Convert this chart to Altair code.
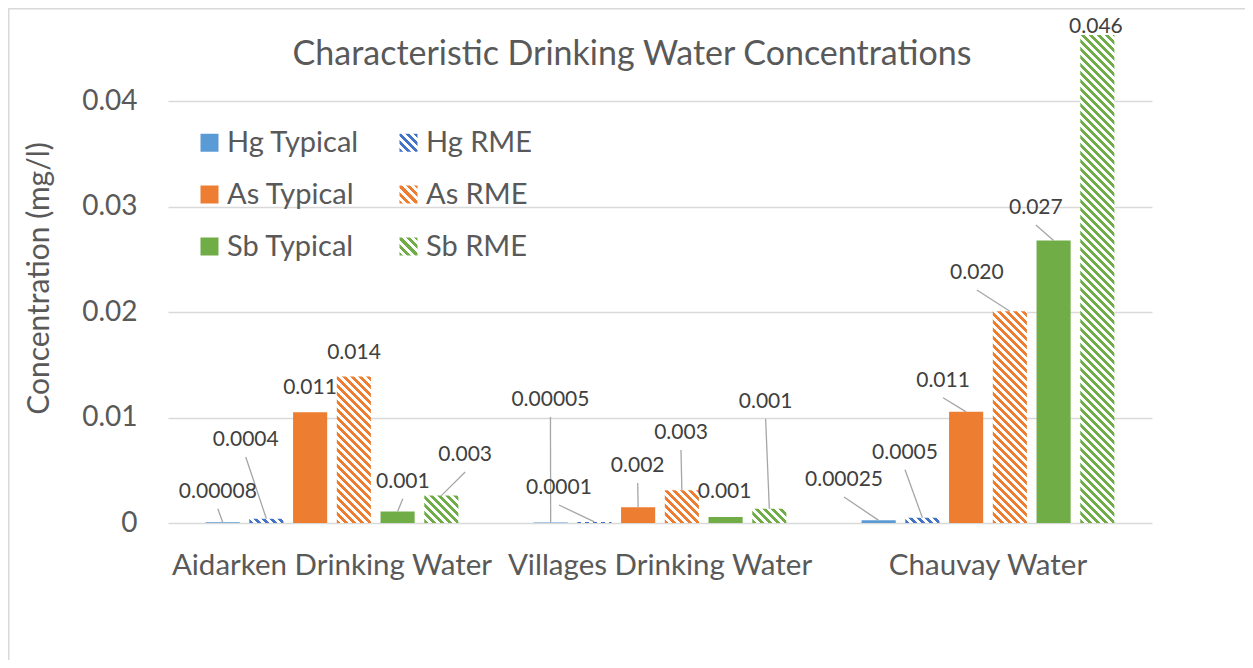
import altair as alt
import pandas as pd

# ---------------- data ----------------
categories = ["Aidarken Drinking Water", "Villages Drinking Water", "Chauvay Water"]
series = ["Hg Typical", "Hg RME", "As Typical", "As RME", "Sb Typical", "Sb RME"]

hg_typical = [0.00008, 0.00005, 0.00025]
hg_rme = [0.0004, 0.0001, 0.0005]
as_typical = [0.0105, 0.0015, 0.01055]
as_rme = [0.0139, 0.0031, 0.0201]
sb_typical = [0.0011, 0.00057, 0.0268]
sb_rme = [0.0026, 0.00136, 0.0463]

# data label texts (per category, per series)
label_text = [
    ["0.00008", "0.0004", "0.011", "0.014", "0.001", "0.003"],
    ["0.00005", "0.0001", "0.002", "0.003", "0.001", "0.001"],
    ["0.00025", "0.0005", "0.011", "0.020", "0.027", "0.046"],
]
# label centres: x in category units, y in mg/l
label_x = [
    [0.152, 0.237, 0.433, 0.567, 0.716, 0.906],
    [1.166, 1.192, 1.432, 1.564, 1.697, 1.822],
    [2.061, 2.247, 2.363, 2.466, 2.646, 2.829],
]
label_y = [
    [0.00297, 0.00788, 0.01281, 0.01616, 0.00392, 0.00645],
    [0.01167, 0.00332, 0.00541, 0.00854, 0.00297, 0.01151],
    [0.00408, 0.00667, 0.01350, 0.02372, 0.02989, 0.04710],
]
has_leader = [
    [True, True, False, False, True, True],
    [True, True, True, True, False, True],
    [True, True, True, True, True, False],
]

series_colors = ["#5B9BD5", "#4472C4", "#ED7D31", "#ED7D31", "#70AD47", "#70AD47"]
hatched = [False, True, False, True, False, True]

# ---------------- layout ----------------
W, H = 984, 490
YMAX = 0.0465
PAD = {"left": 160, "top": 25, "right": 93, "bottom": 137}
X_PI, X_PO = 0.2, 0.1
O_PI, O_PO = 0.22, 0.11
FONT = "Lato"
TXT = "#595959"
GRID = "#D9D9D9"
N_CAT, N_SER = len(categories), len(series)

band_step = W / (N_CAT - X_PI + 2 * X_PO)
group_w = band_step * (1 - X_PI)
sub_step = group_w / (N_SER - O_PI + 2 * O_PO)
bar_w = sub_step * (1 - O_PI)


def hatch(color, w, h, period=8.0, frac=0.5):
    """Diagonal stripes as a bbox-relative linear gradient (Vega expression)."""
    k = (w + h) * w * h / (w * w + h * h)
    x2 = k / h
    y2 = 1 - k / w
    n = (w + h) / period
    stops = []
    m = 0
    while m / n < 1:
        a = m / n
        b = min((m + frac) / n, 1.0)
        c = min((m + 1) / n, 1.0)
        stops += [(a, color), (b, color), (b, "#FFFFFF"), (c, "#FFFFFF")]
        m += 1
    parts = ",".join("{offset:%.5f,color:'%s'}" % (o, col) for o, col in stops)
    return {"expr": "{gradient:'linear',x1:0,y1:1,x2:%.5f,y2:%.5f,stops:[%s]}" % (x2, y2, parts)}


values_by_series = [hg_typical, hg_rme, as_typical, as_rme, sb_typical, sb_rme]
rows = []
fill_domain, fill_range = [], []
for i, cat in enumerate(categories):
    for j, ser in enumerate(series):
        v = values_by_series[j][i]
        key = f"{cat}|{ser}"
        rows.append({
            "category": cat, "series": ser, "value": v, "key": key, "zero": 0.0,
            "label": label_text[i][j], "lx": label_x[i][j], "ly": label_y[i][j],
            "leader": has_leader[i][j],
            "bar_cx": i + X_PO + (j + 0.5) * (1 - X_PI) / N_SER,
        })
        fill_domain.append(key)
        if hatched[j]:
            fill_range.append(hatch(series_colors[j], bar_w, v * H / YMAX))
        else:
            fill_range.append(series_colors[j])
df = pd.DataFrame(rows)
LEADER_GAP = 17 * YMAX / H
df["ly_start"] = df["ly"] - LEADER_GAP

legend_range = [hatch(c, 18, 18) if h else c for c, h in zip(series_colors, hatched)]

yscale = alt.Scale(domain=[0, YMAX], nice=False, zero=True)
xq = alt.Scale(domain=[0, N_CAT], nice=False, zero=False)
YTITLE = "Concentration (mg/l)"
yaxis = alt.Axis(values=[0, 0.01, 0.02, 0.03, 0.04],
                 labelExpr="datum.value == 0 ? '0' : format(datum.value, '.2f')",
                 grid=True, gridColor=GRID, gridWidth=1.3, domain=False, ticks=False,
                 labelFontSize=28, labelColor=TXT, labelFont=FONT, labelPadding=31,
                 titleFontSize=30, titleColor=TXT, titleFont=FONT,
                 titleFontWeight="normal", titlePadding=27)

x_band = alt.X("category:N", sort=categories, title=None,
               scale=alt.Scale(paddingInner=X_PI, paddingOuter=X_PO),
               axis=alt.Axis(labelFontSize=29.5, labelColor=TXT, labelFont=FONT, labelAngle=0,
                             labelLimit=0, ticks=False, domain=False, labelPadding=28))
x_off = alt.XOffset("series:N", sort=series,
                    scale=alt.Scale(paddingInner=O_PI, paddingOuter=O_PO))

base = alt.Chart(df)

bars = base.mark_bar().encode(
    x=x_band, xOffset=x_off,
    y=alt.Y("value:Q", scale=yscale, title=YTITLE, axis=yaxis),
    fill=alt.Fill("key:N", scale=alt.Scale(domain=fill_domain, range=fill_range), legend=None),
)

legend_layer = base.mark_bar().encode(
    x=x_band, xOffset=x_off,
    y=alt.Y("zero:Q", scale=yscale, title=YTITLE, axis=yaxis),
    color=alt.Color("series:N", sort=series,
                    scale=alt.Scale(domain=series, range=legend_range),
                    legend=alt.Legend(title=None, orient="none", legendX=27, legendY=95,
                                      columns=2, direction="horizontal",
                                      symbolType="square", symbolSize=324,
                                      symbolStrokeWidth=0, labelFontSize=29, labelColor=TXT,
                                      labelFont=FONT, labelOffset=3, rowPadding=22,
                                      columnPadding=34, padding=0)),
)

band_layer = alt.layer(bars, legend_layer)

leaders = base.transform_filter("datum.leader").mark_rule(color="#A6A6A6", strokeWidth=1.3).encode(
    x=alt.X("lx:Q", scale=xq, axis=None),
    x2="bar_cx:Q",
    y=alt.Y("ly_start:Q", scale=yscale, title=YTITLE, axis=yaxis),
    y2="value:Q",
)

labels = base.mark_text(font=FONT, fontSize=21, color="#404040", baseline="middle", align="center").encode(
    x=alt.X("lx:Q", scale=xq, axis=None),
    y=alt.Y("ly:Q", scale=yscale, title=YTITLE, axis=yaxis),
    text="label:N",
)

one = pd.DataFrame({"a": [0]})
frame_v = alt.Chart(one).mark_rule(color=GRID, strokeWidth=1.5).encode(
    x=alt.value(-PAD["left"] + 0.75), y=alt.value(-PAD["top"]), y2=alt.value(H + PAD["bottom"]))
frame_h = alt.Chart(one).mark_rule(color=GRID, strokeWidth=1.5).encode(
    x=alt.value(-PAD["left"]), x2=alt.value(W + PAD["right"]), y=alt.value(-PAD["top"] + 0.75))

chart = alt.layer(band_layer, leaders, labels, frame_v, frame_h).resolve_scale(
    x="independent"
).properties(
    width=W, height=H,
    autosize=alt.AutoSizeParams(type="none"),
    padding=PAD,
    title=alt.TitleParams("Characteristic Drinking Water Concentrations", fontSize=34,
                          font=FONT, color=TXT, fontWeight="normal", anchor="middle",
                          frame="group", dx=-28, offset=-82, baseline="middle"),
).configure_view(strokeWidth=0)

chart.save("out.html", embed_options={"renderer": "svg", "actions": False})
